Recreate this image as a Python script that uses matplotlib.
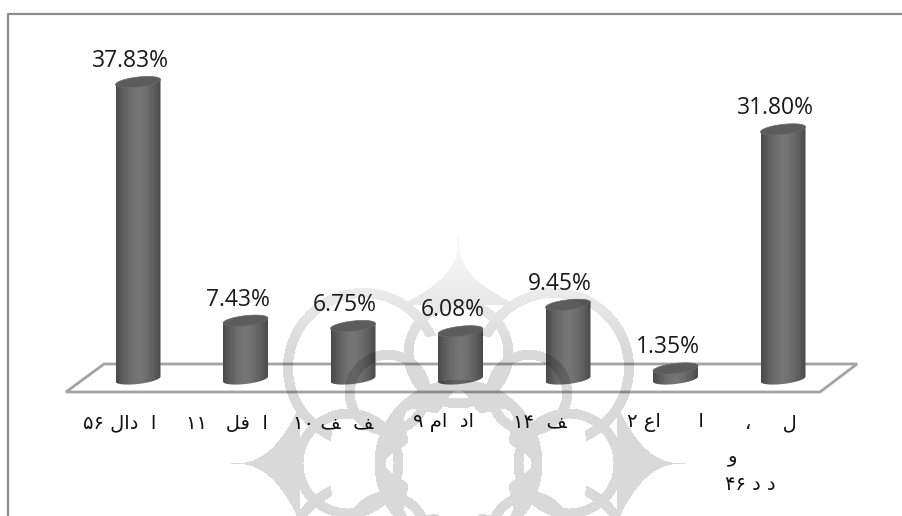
import matplotlib
matplotlib.use('Agg')
import matplotlib.pyplot as plt
import numpy as np
from matplotlib.patches import Polygon
from matplotlib.transforms import Affine2D

# labels are in visual order with presentation forms, matplotlib does no bidi
labels = ['۵۶ ﻝﺍﺩ  ﺍ', '۱۱   ﻞﻓ  ﺍ', '۱۰ ﻒ  ﻒ', '۹ ﻡﺍ  ﺩﺍ', '۱۴  ﻒ', '۲ ﻉﺍ      ﺍ', '،     ﻝ']
extra_lines = ['ﻭ', '۴۶ ﺩ ﺩ']
values = [37.83, 7.43, 6.75, 6.08, 9.45, 1.35, 31.80]

W, H = 902, 516
X0, STEP = 138, 107.5
BASE, SCALE = 379, 7.85

fig = plt.figure(figsize=(W / 100, H / 100), dpi=100)
ax = fig.add_axes([0, 0, 1, 1])
px = Affine2D().scale(1 / W, -1 / H).translate(0, 1) + fig.transFigure

# frame, only top and left are visible
ax.plot([8, 8, W], [H, 14, 14], color='#8c8c8c', lw=1.6, transform=px, zorder=1)

# floor
floor = Polygon([(66, 392), (104, 364), (857, 364), (820, 392)], closed=True, fill=False,
                edgecolor='#a3a3a3', lw=2, transform=px, zorder=2)
ax.add_patch(floor)

# cylinders
half = 22.5 / STEP
cap_b = 5 / SCALE
cap_tilt = 2.5 / SCALE
t = np.linspace(0, 2 * np.pi, 80)
grad = np.abs(np.linspace(-1, 1, 64))[None, :]
for i, v in enumerate(values):
    low = np.linspace(np.pi, 2 * np.pi, 40)
    xs = np.r_[i + half * np.cos(low), i + half, i - half]
    ys = np.r_[cap_b * np.sin(low) + cap_tilt * np.cos(low), v + cap_tilt, v - cap_tilt]
    body = Polygon(np.c_[xs, ys], closed=True, facecolor='none', edgecolor='none')
    ax.add_patch(body)
    # lighter in the middle, darker on both sides
    im = ax.imshow(0.46 - 0.17 * grad ** 1.6, extent=(i - half, i + half, -1, v + 1), aspect='auto',
                   cmap='gray', vmin=0, vmax=1, zorder=3, interpolation='bilinear')
    im.set_clip_path(body)
    ax.add_patch(Polygon(np.c_[i + half * np.cos(t), v + cap_b * np.sin(t) + cap_tilt * np.cos(t)],
                         closed=True, facecolor='#5c5c5c', edgecolor='#6a6a6a', lw=0.5, zorder=4))
    ax.annotate(f'{v:.2f}%', (i, v), xytext=(-8, 21), textcoords='offset pixels', ha='center',
                va='center', fontsize=16.5, family='Open Sans', color='#1a1a1a', zorder=6)

# category labels
label_left = [83, 186, 293, 413, 513, 627, 745]
for x, s in zip(label_left, labels):
    ax.text(x, 423, s, transform=px, ha='left', va='center', fontsize=14, family='DejaVu Sans',
            color='#111111', zorder=6)
ax.text(733, 457, extra_lines[0], transform=px, ha='center', va='center', fontsize=14,
        family='DejaVu Sans', color='#111111', zorder=6)
ax.text(725, 484, extra_lines[1], transform=px, ha='left', va='center', fontsize=14,
        family='DejaVu Sans', color='#111111', zorder=6)

# watermark on top of everything, it darkens the bars too
yy, xx = np.mgrid[0:H, 0:W]
dx, dy = xx - 458.0, yy - 463.0
r = np.hypot(dx, dy)
theta = np.arctan2(dy, dx)
mask = np.zeros((H, W), dtype=bool)
for a in np.deg2rad(np.arange(0, 360, 90)):
    d = np.hypot(dx - 110 * np.cos(a), dy - 110 * np.sin(a))
    mask |= np.abs(d - 50) < 5
    u = dx * np.cos(a) + dy * np.sin(a)
    v = -dx * np.sin(a) + dy * np.cos(a)
    tip = 60 * (np.clip(228 - u, 0, None) / 70) ** 2.6
    mask |= (u > 158) & (u < 228) & (np.abs(v) < tip)
for a in np.deg2rad(np.arange(45, 360, 90)):
    d = np.hypot(dx - 100 * np.cos(a), dy - 100 * np.sin(a))
    mask |= np.abs(d - 38) < 5
    d = np.hypot(dx - 135 * np.cos(a), dy - 135 * np.sin(a))
    mask |= (np.abs(d - 75) < 5) & (r > 130)
# white flower in the middle with a thick band round it
mask |= (r < 84) & (r > 64 + 9 * np.cos(8 * theta))
fade = np.clip((yy - 220) / 130, 0.3, 1)
rgba = np.zeros((H, W, 4))
rgba[..., 3] = mask * 0.15 * fade
ax.imshow(rgba, extent=(0, W, H, 0), transform=px, aspect='auto', zorder=5, interpolation='bilinear')

ax.set_xlim((0 - X0) / STEP, (W - X0) / STEP)
ax.set_ylim((BASE - H) / SCALE, BASE / SCALE)
ax.axis('off')
fig.savefig('out.png', dpi=100, facecolor='white')
